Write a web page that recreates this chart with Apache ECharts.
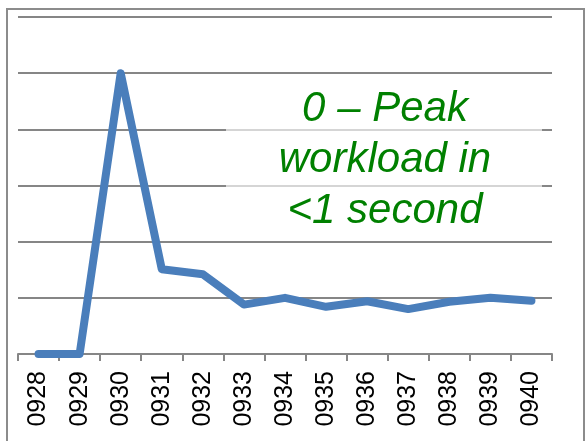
<!DOCTYPE html>
<html>
<head>
<meta charset="utf-8">
<script src="https://cdn.jsdelivr.net/npm/echarts@6/dist/echarts.min.js"></script>
<style>
  html, body { margin: 0; padding: 0; background: #fff; }
  #chart { width: 585px; height: 441px; }
</style>
</head>
<body>
<div id="chart"></div>
<script>
// categories (time stamps) and workload values
var times = ['0928', '0929', '0930', '0931', '0932', '0933', '0934',
             '0935', '0936', '0937', '0938', '0939', '0940'];
var workload = [0, 0, 5, 1.51, 1.42, 0.88, 1.0, 0.84, 0.94, 0.8, 0.93, 1.0, 0.95];
var noteLines = ['0 – Peak', 'workload in', '<1 second'];

var myChart = echarts.init(document.getElementById('chart'));

var option = {
    animation: false,
    grid: {
        left: 18,
        right: 33,
        top: 17,
        bottom: 87
    },
    xAxis: {
        type: 'category',
        data: times,
        boundaryGap: true,
        axisLine: { lineStyle: { color: '#868686', width: 2 } },
        axisTick: { show: true, length: 7, lineStyle: { color: '#868686', width: 2 } },
        axisLabel: {
            rotate: 90,
            margin: 17,
            color: '#000',
            fontSize: 25,
            fontFamily: 'Liberation Sans'
        }
    },
    yAxis: {
        type: 'value',
        min: 0,
        max: 6,
        interval: 1,
        axisLine: { show: false },
        axisTick: { show: false },
        axisLabel: { show: false },
        splitLine: { lineStyle: { color: '#868686', width: 2 } }
    },
    graphic: [
        {   // outer frame
            type: 'rect',
            z: 0,
            shape: { x: 7, y: 9, width: 577, height: 440 },
            style: { fill: 'none', stroke: '#8c8c8c', lineWidth: 2 }
        },
        {   // translucent box behind the note
            type: 'rect',
            z: 5,
            shape: { x: 226, y: 77, width: 316, height: 161 },
            style: { fill: 'rgba(255,255,255,0.65)' }
        },
        {
            type: 'text',
            z: 10,
            x: 385,
            y: 84,
            style: {
                text: noteLines.join('\n'),
                align: 'center',
                verticalAlign: 'top',
                fill: '#008000',
                fontSize: 42,
                fontStyle: 'italic',
                fontFamily: 'Liberation Sans',
                lineHeight: 51
            }
        }
    ],
    series: [
        {
            type: 'line',
            data: workload,
            symbol: 'none',
            z: 3,
            lineStyle: { color: '#4a7ebb', width: 8, cap: 'round', join: 'round' }
        }
    ]
};
myChart.setOption(option);
</script>
</body>
</html>
